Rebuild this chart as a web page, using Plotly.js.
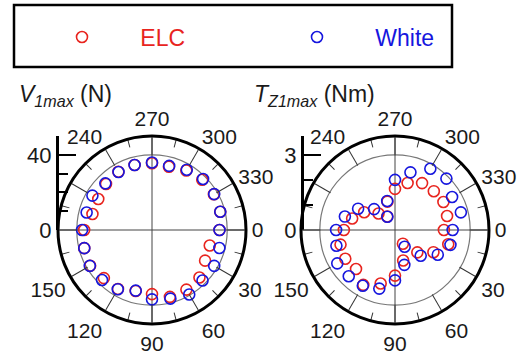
<!DOCTYPE html>
<html>
<head>
<meta charset="utf-8">
<script src="https://cdn.plot.ly/plotly-3.0.1.min.js"></script>
<style>html,body{margin:0;padding:0;background:#fff;}#chart{width:520px;height:355px;}</style>
</head>
<body>
<div id="chart"></div>
<script>
// ---- data ----
var angles = [0,15,30,45,60,75,90,105,120,135,150,165,180,195,210,225,240,255,270,285,300,315,330,345];
var v1maxELC   = [35.9,31.8,32.6,35.7,36.6,36.8,34.1,33.6,36.2,36.2,38.0,37.3,36.1,32.8,33.0,34.6,35.8,35.8,35.5,34.8,36.5,37.8,38.0,37.6];
var v1maxWhite = [35.9,37.1,38.2,38.0,39.6,37.8,36.9,33.4,36.4,37.6,38.2,37.3,37.2,36.0,36.6,35.1,35.6,35.8,35.9,35.3,37.0,38.4,38.2,37.6];
var tz1maxELC   = [1.95,2.20,1.77,1.26,0.63,1.26,1.82,2.21,2.53,2.20,2.29,2.25,2.04,1.77,1.42,0.93,0.62,1.17,1.64,1.94,2.16,2.19,2.23,2.15];
var tz1maxWhite = [2.30,2.29,1.97,1.45,0.77,1.44,2.01,2.42,2.57,2.61,2.66,2.42,2.35,2.07,1.70,1.18,0.61,1.20,2.00,2.38,2.82,2.90,2.63,2.72];
var majorAngles = [0,30,60,90,120,150,180,210,240,270,300,330];
var majorLabels = ['0','30','60','90','120','150','','','240','270','300','330'];
var minorAngles = [15,45,75,105,135,165,195,225,255,285,315,345];
var crossAngles = [0,90,180,270];
var v1Ticks = [0,40], v1Minor = [10,20,30];
var tzTicks = [0,3], tzMinor = [1,2];
var v1Range = [0,50], tzRange = [0,3.75];

var RED = 'rgb(232,36,30)', BLUE = 'rgb(22,22,222)';
var FONT = 'Arial, "Liberation Sans", sans-serif';
var W = 520, H = 355;

function anchorTrace(sub){ return {type:'scatterpolar', subplot:sub, r:[0], theta:[0], mode:'markers', marker:{opacity:0}, showlegend:false, hoverinfo:'skip'}; }
function dataTrace(sub, r, name, color, show, leg){
  return {type:'scatterpolar', subplot:sub, r:r, theta:angles, mode:'markers', name:name,
    legend:leg, showlegend:show,
    marker:{symbol:'circle-open', size:11, color:color, line:{width:1.6, color:color}}, hoverinfo:'skip'};
}
var pad = '\u00a0\u00a0\u00a0\u00a0\u00a0\u00a0';
var traces = [
  anchorTrace('polar'), anchorTrace('polar2'),
  dataTrace('polar3', v1maxELC, pad+'ELC', RED, true, 'legend'),
  dataTrace('polar3', v1maxWhite, pad+'White', BLUE, true, 'legend2'),
  anchorTrace('polar4'), anchorTrace('polar5'),
  dataTrace('polar6', tz1maxELC, 'ELC', RED, false, 'legend'),
  dataTrace('polar6', tz1maxWhite, 'White', BLUE, false, 'legend2'),
  {type:'scatter', x:[0], y:[0], xaxis:'x', yaxis:'y', mode:'markers', marker:{opacity:0}, showlegend:false, hoverinfo:'skip'},
  {type:'scatter', x:[0], y:[0], xaxis:'x2', yaxis:'y2', mode:'markers', marker:{opacity:0}, showlegend:false, hoverinfo:'skip'}
];

var cy = 125, R = 94;
function dom(cx){ return {x:[(cx-R)/W,(cx+R)/W], y:[(cy-R)/H,(cy+R)/H]}; }
var clear = 'rgba(0,0,0,0)';
function gridPolar(cx, rng, gridVal){
  return {domain:dom(cx), bgcolor:clear,
    angularaxis:{rotation:0, direction:'clockwise', tickmode:'array', tickvals:crossAngles, showticklabels:false, ticks:'', showline:false, showgrid:true, gridcolor:'#444', gridwidth:1},
    radialaxis:{range:rng, tickmode:'array', tickvals:[gridVal], showgrid:true, gridcolor:'#777', gridwidth:1.2, showticklabels:false, ticks:'', showline:false}};
}
function minorPolar(cx, rng){
  return {domain:dom(cx), bgcolor:clear,
    angularaxis:{rotation:0, direction:'clockwise', tickmode:'array', tickvals:minorAngles, showticklabels:false, ticks:'inside', ticklen:8, tickwidth:1, tickcolor:'#333', showline:false, showgrid:false},
    radialaxis:{range:rng, visible:false}};
}
function mainPolar(cx, rng){
  return {domain:dom(cx), bgcolor:clear,
    angularaxis:{rotation:0, direction:'clockwise', tickmode:'array', tickvals:majorAngles, ticktext:majorLabels,
      ticks:'inside', ticklen:18, tickwidth:1, tickcolor:'#333', showline:true, linecolor:'#000', linewidth:3, showgrid:false,
      tickfont:{size:21, color:'#1a1a1a', family:FONT}},
    radialaxis:{range:rng, visible:false}};
}
function radialY(rng, tv, mv, pos){
  return {domain:[cy/H,(cy+R)/H], range:rng, anchor:'free', position:pos, side:'left',
    tickmode:'array', tickvals:tv, ticktext:tv.map(String), ticks:'inside', ticklen:17, tickwidth:2.5, tickcolor:'#000',
    showline:true, linecolor:'#000', linewidth:2.5, showgrid:false, zeroline:false,
    tickfont:{size:22, color:'#1a1a1a', family:FONT},
    minor:{tickmode:'array', tickvals:mv, ticks:'inside', ticklen:9, tickwidth:2, tickcolor:'#000', showgrid:false}};
}

var layout = {
  width:W, height:H, margin:{l:0,r:0,t:0,b:0}, paper_bgcolor:'#fff', plot_bgcolor:clear,
  font:{family:FONT, color:'#1a1a1a'}, hovermode:false,
  polar:gridPolar(152, v1Range, 40), polar2:minorPolar(152, v1Range), polar3:mainPolar(152, v1Range),
  polar4:gridPolar(395, tzRange, 3), polar5:minorPolar(395, tzRange), polar6:mainPolar(395, tzRange),
  xaxis:{visible:false, domain:[0,1], anchor:'y', range:[0,1]},
  xaxis2:{visible:false, domain:[0,1], anchor:'y2', range:[0,1]},
  yaxis:radialY(v1Range, v1Ticks, v1Minor, 57/W),
  yaxis2:radialY(tzRange, tzTicks, tzMinor, 302/W),
  legend:{x:62/W, y:1-37/H, xanchor:'left', yanchor:'middle', orientation:'h', bgcolor:clear, borderwidth:0, font:{size:23, color:RED, family:FONT}},
  legend2:{x:297/W, y:1-37/H, xanchor:'left', yanchor:'middle', orientation:'h', bgcolor:clear, borderwidth:0, font:{size:23, color:BLUE, family:FONT}},
  shapes:[{type:'rect', xref:'paper', yref:'paper', x0:14/W, x1:452/W, y0:1-67/H, y1:1-5/H, line:{color:'#000', width:2.5}}],
  annotations:[
    {xref:'paper', yref:'paper', x:17/W, y:1-96/H, xanchor:'left', yanchor:'middle', showarrow:false,
     text:'<i>V</i><sub><i>1max</i></sub> (N)', font:{size:23, family:FONT, color:'#1a1a1a'}},
    {xref:'paper', yref:'paper', x:252/W, y:1-96/H, xanchor:'left', yanchor:'middle', showarrow:false,
     text:'<i>T</i><sub><i>Z1max</i></sub> (Nm)', font:{size:23, family:FONT, color:'#1a1a1a'}}
  ]
};
Plotly.newPlot('chart', traces, layout, {staticPlot:true, displayModeBar:false});
</script>
</body>
</html>
